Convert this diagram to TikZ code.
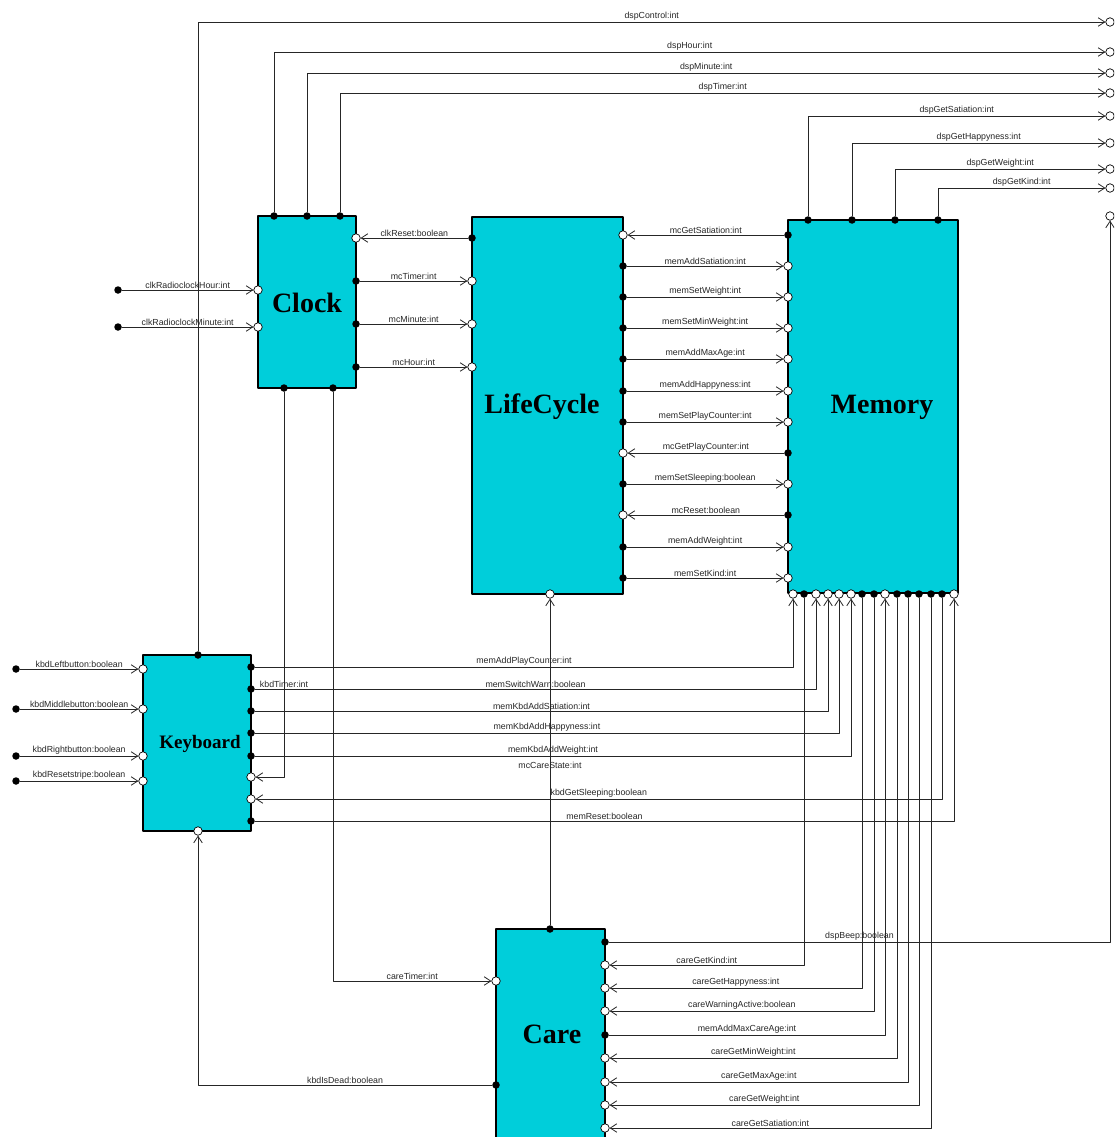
\documentclass[tikz,border=0pt]{standalone}
\usepackage{fontspec}
\setmainfont{Liberation Serif}
\setsansfont{Liberation Sans}
\usetikzlibrary{arrows.meta}

\definecolor{blockcyan}{RGB}{0,206,218}
\tikzset{
	block/.style={draw=black, line width=2.4pt, fill=blockcyan, inner sep=0},
	blocktitle/.style={font=\bfseries\fontsize{28}{30}\selectfont},
	outport/.style={circle, fill=black, inner sep=0, minimum size=7.5pt},
	inport/.style={circle, draw=black, line width=0.7pt, fill=white, inner sep=0, minimum size=8.5pt},
	sig/.style={draw=black!85, line width=0.8pt, -{Straight Barb[length=6.5pt,width=8.5pt,line width=0.8pt]}},
	lbl/.style={font=\sffamily\fontsize{8.8}{10}\selectfont, text=black!85, inner sep=1.5pt},
}

\begin{document}
\begin{tikzpicture}[line cap=round,line join=round,x=1pt,y=-1pt]
				\useasboundingbox (0,0) rectangle (1114,1137);
				\clip (0,0) rectangle (1114,1137);
				%% blocks
				\node[block, minimum width=98pt, minimum height=172pt] (clock) at (307,302) {};
				\node[block, minimum width=151pt, minimum height=377pt] (lifecycle) at (547.5,405.5) {};
				\node[block, minimum width=170pt, minimum height=373pt] (memory) at (873,406.5) {};
				\node[block, minimum width=108pt, minimum height=176pt] (keyboard) at (197,743) {};
				\node[block, minimum width=109pt, minimum height=260pt] (care) at (550.5,1059) {};
				\node[blocktitle] (clocktitle) at (307,303) {Clock};
				\node[blocktitle] (lifecycletitle) at (542,407) {LifeCycle};
				\node[blocktitle] (memorytitle) at (882,407) {Memory};
				\node[blocktitle, font=\bfseries\fontsize{19}{21}\selectfont] (keyboardtitle) at (200,744) {Keyboard};
				\node[blocktitle] (caretitle) at (552,1034) {Care};
				%% Clock ports
				\node[outport] (clkT1) at (274,216) {};
				\node[outport] (clkT2) at (307,216) {};
				\node[outport] (clkT3) at (340,216) {};
				\node[inport] (clkL1) at (258,290) {};
				\node[inport] (clkL2) at (258,327) {};
				\node[inport] (clkR1) at (356,238) {};
				\node[outport] (clkR2) at (356,281) {};
				\node[outport] (clkR3) at (356,324) {};
				\node[outport] (clkR4) at (356,367) {};
				\node[outport] (clkB1) at (284,388) {};
				\node[outport] (clkB2) at (333,388) {};
				%% LifeCycle ports
				\node[outport] (lcL1) at (472,238) {};
				\node[inport] (lcL2) at (472,281) {};
				\node[inport] (lcL3) at (472,324) {};
				\node[inport] (lcL4) at (472,367) {};
				\node[inport] (lcR1) at (623,235) {};
				\node[outport] (lcR2) at (623,266) {};
				\node[outport] (lcR3) at (623,297) {};
				\node[outport] (lcR4) at (623,328) {};
				\node[outport] (lcR5) at (623,359) {};
				\node[outport] (lcR6) at (623,391) {};
				\node[outport] (lcR7) at (623,422) {};
				\node[inport] (lcR8) at (623,453) {};
				\node[outport] (lcR9) at (623,484) {};
				\node[inport] (lcR10) at (623,515) {};
				\node[outport] (lcR11) at (623,547) {};
				\node[outport] (lcR12) at (623,578) {};
				\node[inport] (lcB) at (550,594) {};
				%% Memory ports
				\node[outport] (memL1) at (788,235) {};
				\node[inport] (memL2) at (788,266) {};
				\node[inport] (memL3) at (788,297) {};
				\node[inport] (memL4) at (788,328) {};
				\node[inport] (memL5) at (788,359) {};
				\node[inport] (memL6) at (788,391) {};
				\node[inport] (memL7) at (788,422) {};
				\node[outport] (memL8) at (788,453) {};
				\node[inport] (memL9) at (788,484) {};
				\node[outport] (memL10) at (788,515) {};
				\node[inport] (memL11) at (788,547) {};
				\node[inport] (memL12) at (788,578) {};
				\node[outport] (memT1) at (808,220) {};
				\node[outport] (memT2) at (852,220) {};
				\node[outport] (memT3) at (895,220) {};
				\node[outport] (memT4) at (938,220) {};
				\node[inport] (memB1) at (793,594) {};
				\node[outport] (memB2) at (804,594) {};
				\node[inport] (memB3) at (816,594) {};
				\node[inport] (memB4) at (828,594) {};
				\node[inport] (memB5) at (839,594) {};
				\node[inport] (memB6) at (851,594) {};
				\node[outport] (memB7) at (862,594) {};
				\node[outport] (memB8) at (874,594) {};
				\node[inport] (memB9) at (885,594) {};
				\node[outport] (memB10) at (897,594) {};
				\node[outport] (memB11) at (908,594) {};
				\node[outport] (memB12) at (919,594) {};
				\node[outport] (memB13) at (931,594) {};
				\node[outport] (memB14) at (942,594) {};
				\node[inport] (memB15) at (954,594) {};
				%% Keyboard ports
				\node[outport] (kbdT) at (198,655) {};
				\node[inport] (kbdB) at (198,831) {};
				\node[inport] (kbdL1) at (143,669) {};
				\node[inport] (kbdL2) at (143,709) {};
				\node[inport] (kbdL3) at (143,756) {};
				\node[inport] (kbdL4) at (143,781) {};
				\node[outport] (kbdR1) at (251,667) {};
				\node[outport] (kbdR2) at (251,689) {};
				\node[outport] (kbdR3) at (251,711) {};
				\node[outport] (kbdR4) at (251,733) {};
				\node[outport] (kbdR5) at (251,756) {};
				\node[inport] (kbdR6) at (251,777) {};
				\node[inport] (kbdR7) at (251,799) {};
				\node[outport] (kbdR8) at (251,821) {};
				%% Care ports
				\node[outport] (careT) at (550,929) {};
				\node[inport] (careL1) at (496,981) {};
				\node[outport] (careL2) at (496,1085) {};
				\node[outport] (careR0) at (605,942) {};
				\node[inport] (careR1) at (605,965) {};
				\node[inport] (careR2) at (605,988) {};
				\node[inport] (careR3) at (605,1011) {};
				\node[outport] (careR4) at (605,1035) {};
				\node[inport] (careR5) at (605,1058) {};
				\node[inport] (careR6) at (605,1082) {};
				\node[inport] (careR7) at (605,1105) {};
				\node[inport] (careR8) at (605,1128) {};
				%% outer ports
				\node[outport] (inHour) at (118,290) {};
				\node[outport] (inMinute) at (118,327) {};
				\node[outport] (inLeft) at (16,669) {};
				\node[outport] (inMiddle) at (16,709) {};
				\node[outport] (inRight) at (16,756) {};
				\node[outport] (inReset) at (16,781) {};
				\node[inport] (outControl) at (1110,22) {};
				\node[inport] (outHour) at (1110,52) {};
				\node[inport] (outMinute) at (1110,73) {};
				\node[inport] (outTimer) at (1110,93) {};
				\node[inport] (outSatiation) at (1110,116) {};
				\node[inport] (outHappyness) at (1110,143) {};
				\node[inport] (outWeight) at (1110,169) {};
				\node[inport] (outKind) at (1110,188) {};
				\node[inport] (outBeep) at (1110,216) {};
				%% display signals
				\draw[sig] (kbdT) |- node[lbl, pos=0.75, above] {dspControl:int} (outControl);
				\draw[sig] (clkT1) |- node[lbl, pos=0.75, above] {dspHour:int} (outHour);
				\draw[sig] (clkT2) |- node[lbl, pos=0.75, above] {dspMinute:int} (outMinute);
				\draw[sig] (clkT3) |- node[lbl, pos=0.75, above] {dspTimer:int} (outTimer);
				\draw[sig] (memT1) |- node[lbl, pos=0.75, above] {dspGetSatiation:int} (outSatiation);
				\draw[sig] (memT2) |- node[lbl, pos=0.75, above] {dspGetHappyness:int} (outHappyness);
				\draw[sig] (memT3) |- node[lbl, pos=0.75, above] {dspGetWeight:int} (outWeight);
				\draw[sig] (memT4) |- node[lbl, pos=0.75, above] {dspGetKind:int} (outKind);
				\draw[sig] (careR0) -| node[lbl, pos=0.25, above] {dspBeep:boolean} (outBeep);
				%% clock
				\draw[sig] (inHour) -- node[lbl, above] {clkRadioclockHour:int} (clkL1);
				\draw[sig] (inMinute) -- node[lbl, above] {clkRadioclockMinute:int} (clkL2);
				\draw[sig] (lcL1) -- node[lbl, above] {clkReset:boolean} (clkR1);
				\draw[sig] (clkR2) -- node[lbl, above] {mcTimer:int} (lcL2);
				\draw[sig] (clkR3) -- node[lbl, above] {mcMinute:int} (lcL3);
				\draw[sig] (clkR4) -- node[lbl, above] {mcHour:int} (lcL4);
				\draw[sig] (clkB1) |- node[lbl, pos=0.38] {kbdTimer:int} (kbdR6);
				\draw[sig] (clkB2) |- node[lbl, pos=0.75, above] {careTimer:int} (careL1);
				%% lifecycle and memory
				\draw[sig] (memL1) -- node[lbl, above] {mcGetSatiation:int} (lcR1);
				\draw[sig] (lcR2) -- node[lbl, above] {memAddSatiation:int} (memL2);
				\draw[sig] (lcR3) -- node[lbl, above] {memSetWeight:int} (memL3);
				\draw[sig] (lcR4) -- node[lbl, above] {memSetMinWeight:int} (memL4);
				\draw[sig] (lcR5) -- node[lbl, above] {memAddMaxAge:int} (memL5);
				\draw[sig] (lcR6) -- node[lbl, above] {memAddHappyness:int} (memL6);
				\draw[sig] (lcR7) -- node[lbl, above] {memSetPlayCounter:int} (memL7);
				\draw[sig] (memL8) -- node[lbl, above] {mcGetPlayCounter:int} (lcR8);
				\draw[sig] (lcR9) -- node[lbl, above] {memSetSleeping:boolean} (memL9);
				\draw[sig] (memL10) -- node[lbl, above] {mcReset:boolean} (lcR10);
				\draw[sig] (lcR11) -- node[lbl, above] {memAddWeight:int} (memL11);
				\draw[sig] (lcR12) -- node[lbl, above] {memSetKind:int} (memL12);
				\draw[sig] (careT) -- node[lbl, pos=0.49] {mcCareState:int} (lcB);
				%% keyboard
				\draw[sig] (inLeft) -- node[lbl, above] {kbdLeftbutton:boolean} (kbdL1);
				\draw[sig] (inMiddle) -- node[lbl, above] {kbdMiddlebutton:boolean} (kbdL2);
				\draw[sig] (inRight) -- node[lbl, above] {kbdRightbutton:boolean} (kbdL3);
				\draw[sig] (inReset) -- node[lbl, above] {kbdResetstripe:boolean} (kbdL4);
				\draw[sig] (kbdR1) -| node[lbl, pos=0.25, above] {memAddPlayCounter:int} (memB1);
				\draw[sig] (kbdR2) -| node[lbl, pos=0.25, above] {memSwitchWarn:boolean} (memB3);
				\draw[sig] (kbdR3) -| node[lbl, pos=0.25, above] {memKbdAddSatiation:int} (memB4);
				\draw[sig] (kbdR4) -| node[lbl, pos=0.25, above] {memKbdAddHappyness:int} (memB5);
				\draw[sig] (kbdR5) -| node[lbl, pos=0.25, above] {memKbdAddWeight:int} (memB6);
				\draw[sig] (memB14) |- node[lbl, pos=0.75, above] {kbdGetSleeping:boolean} (kbdR7);
				\draw[sig] (kbdR8) -| node[lbl, pos=0.25, above] {memReset:boolean} (memB15);
				\draw[sig] (careL2) -| node[lbl, pos=0.25, above] {kbdIsDead:boolean} (kbdB);
				%% care
				\draw[sig] (memB2) |- node[lbl, pos=0.75, above] {careGetKind:int} (careR1);
				\draw[sig] (memB7) |- node[lbl, pos=0.75, above] {careGetHappyness:int} (careR2);
				\draw[sig] (memB8) |- node[lbl, pos=0.75, above] {careWarningActive:boolean} (careR3);
				\draw[sig] (careR4) -| node[lbl, pos=0.25, above] {memAddMaxCareAge:int} (memB9);
				\draw[sig] (memB10) |- node[lbl, pos=0.75, above] {careGetMinWeight:int} (careR5);
				\draw[sig] (memB11) |- node[lbl, pos=0.75, above] {careGetMaxAge:int} (careR6);
				\draw[sig] (memB12) |- node[lbl, pos=0.75, above] {careGetWeight:int} (careR7);
				\draw[sig] (memB13) |- node[lbl, pos=0.75, above] {careGetSatiation:int} (careR8);
			\end{tikzpicture}
\end{document}
